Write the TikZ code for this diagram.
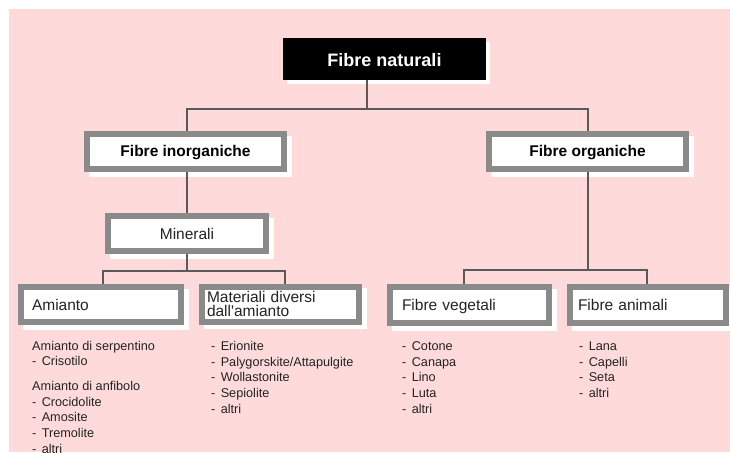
\documentclass[tikz,border=0pt]{standalone}
\usepackage{fontspec}
\setmainfont{Liberation Sans}[Ligatures=TeXOff]
\definecolor{bg}{RGB}{255,218,218}
\definecolor{framegray}{RGB}{138,138,138}
\definecolor{ink}{RGB}{35,35,35}
\definecolor{conn}{RGB}{90,90,90}
\newcommand{\itm}{-\hspace{0.42em}}
\newenvironment{ilist}{\begin{tabular}[t]{@{}l@{}}}{\end{tabular}}
\begin{document}
\begin{tikzpicture}[x=1pt,y=-1pt,
  natbox/.style={fill=black, text=white, inner sep=0pt,
    font=\bfseries\fontsize{18}{21}\selectfont, text height=16pt, text depth=1pt,
    minimum width=203pt, minimum height=42pt,
    preaction={fill=white, transform canvas={shift={(4pt,-4pt)}}}},
  gbox/.style={draw=framegray, line width=6pt, fill=white, inner sep=0pt, text=ink,
    minimum height=35pt,
    preaction={draw=white, fill=white, line width=6pt, transform canvas={shift={(4.5pt,-4.5pt)}}}},
  oneline/.style={text height=12pt, text depth=1pt},
  boldlbl/.style={text height=11pt, text depth=1pt, font=\bfseries\fontsize{15.5}{18}\selectfont, text=black},
  plainlbl/.style={font=\fontsize{15.5}{14}\selectfont},
  leftbox/.style={align=left},
  listtxt/.style={inner sep=0pt, anchor=base west, text=ink,
    font=\fontsize{12.7}{15.7}\selectfont},
  wire/.style={draw=conn, line width=1.1pt}]
\useasboundingbox (0,0) rectangle (730,452);
\fill[bg] (9,9) rectangle (730,452);

% boxes
\node[natbox] (nat) at (384.5,59) {Fibre naturali};
\node[gbox, boldlbl, minimum width=197pt] (inorg) at (185.5,151.5) {Fibre inorganiche};
\node[gbox, boldlbl, minimum width=197pt] (org) at (587.5,151.5) {Fibre organiche};
\node[gbox, plainlbl, oneline, minimum width=158pt] (mine) at (187,233.5) {Minerali};
\node[gbox, plainlbl, oneline, leftbox, inner xsep=11pt, text width=138pt] (ami) at (101,304.5) {Amianto};
\node[gbox, plainlbl, leftbox, inner xsep=5pt, text width=147pt] (mat) at (280.5,304) {Materiali diversi\\dall'amianto};
\node[gbox, plainlbl, oneline, leftbox, inner xsep=12pt, text width=135pt, minimum height=36pt] (veg) at (469.5,305) {Fibre vegetali};
\node[gbox, plainlbl, oneline, leftbox, inner xsep=8pt, text width=140pt, minimum height=36pt] (ani) at (648,305) {Fibre animali};

% connectors
\coordinate (j0) at (367,109);
\coordinate (t1) at (187,109);
\coordinate (t2) at (588,109);
\draw[wire] (j0 |- nat.south) -- (j0);
\draw[wire] (t1 |- inorg.north) -- (t1) -- (t2) -- (t2 |- org.north);
\draw[wire] (t1 |- inorg.south) -- (t1 |- mine.north);
\coordinate (bm) at (187,271);
\coordinate (b1) at (103,271);
\coordinate (b2) at (285,271);
\draw[wire] (bm |- mine.south) -- (bm);
\draw[wire] (b1 |- ami.north) -- (b1) -- (b2) -- (b2 |- mat.north);
\coordinate (cm) at (588,270);
\coordinate (c1) at (464,270);
\coordinate (c2) at (647,270);
\draw[wire] (cm |- org.south) -- (cm);
\draw[wire] (c1 |- veg.north) -- (c1) -- (c2) -- (c2 |- ani.north);

% lists
\node[listtxt] (lami) at (32,350) {\begin{ilist}Amianto di serpentino\\\itm Crisotilo\\[9pt]Amianto di anfibolo\\\itm Crocidolite\\\itm Amosite\\\itm Tremolite\\\itm altri\end{ilist}};
\node[listtxt] (lmat) at (211,350.5) {\begin{ilist}\itm Erionite\\\itm Palygorskite/Attapulgite\\\itm Wollastonite\\\itm Sepiolite\\\itm altri\end{ilist}};
\node[listtxt] (lveg) at (402,350.5) {\begin{ilist}\itm Cotone\\\itm Canapa\\\itm Lino\\\itm Luta\\\itm altri\end{ilist}};
\node[listtxt] (lani) at (579,350.5) {\begin{ilist}\itm Lana\\\itm Capelli\\\itm Seta\\\itm altri\end{ilist}};
\end{tikzpicture}
\end{document}
